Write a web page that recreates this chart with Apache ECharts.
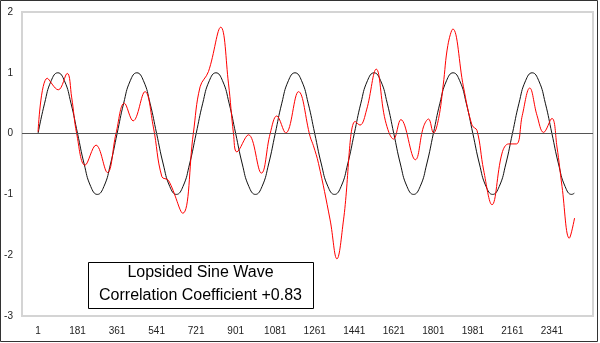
<!DOCTYPE html>
<html>
<head>
<meta charset="utf-8">
<script src="https://cdn.jsdelivr.net/npm/echarts@6/dist/echarts.min.js"></script>
<style>
html,body{margin:0;padding:0;background:#fff;}
#chart{width:600px;height:343px;}
</style>
</head>
<body>
<div id="chart"></div>
<script>
// Tick labels on the x axis (sample numbers)
const xTickLabels = [1, 181, 361, 541, 721, 901, 1081, 1261, 1441, 1621, 1801, 1981, 2161, 2341];
const yTicks = [-3, -2, -1, 0, 1, 2];

// Black: pure sine wave (sample index, value)
const sineX = [0,30,60,90,120,150,180,210,240,270,300,330,360,390,420,450,480,510,540,570,600,630,660,690,720,750,780,810,840,870,900,930,960,990,1020,1050,1080,1110,1140,1170,1200,1230,1260,1290,1320,1350,1380,1410,1440,1470,1500,1530,1560,1590,1620,1650,1680,1710,1740,1770,1800,1830,1860,1890,1920,1950,1980,2010,2040,2070,2100,2130,2160,2190,2220,2250,2280,2310,2340,2370,2400,2430,2442];
const sineY = [0,0.5,0.87,1,0.87,0.5,0,-0.5,-0.87,-1,-0.87,-0.5,
               0,0.5,0.87,1,0.87,0.5,0,-0.5,-0.87,-1,-0.87,-0.5,
               0,0.5,0.87,1,0.87,0.5,0,-0.5,-0.87,-1,-0.87,-0.5,
               0,0.5,0.87,1,0.87,0.5,0,-0.5,-0.87,-1,-0.87,-0.5,
               0,0.5,0.87,1,0.87,0.5,0,-0.5,-0.87,-1,-0.87,-0.5,
               0,0.5,0.87,1,0.87,0.5,0,-0.5,-0.87,-1,-0.87,-0.5,
               0,0.5,0.87,1,0.87,0.5,0,-0.5,-0.87,-1,-0.98];

// Red: lopsided sine wave (sample index, value)
const lopX = [0,42,92,133,153,176,214,264,316,355,393,433,487,525,564,594,659,707,738,776,832,867,890,905,958,1017,1057,1087,1128,1186,1239,1254,1277,1330,1361,1391,1444,1466,1496,1540,1581,1619,1652,1718,1755,1778,1801,1824,1845,1866,1889,1937,1976,1999,2029,2067,2113,2143,2178,2205,2239,2272,2302,2340,2363,2386,2419,2443];
const lopY = [0.03,0.91,0.72,0.99,0.6,0,-0.52,-0.19,-0.64,0,0.5,0.21,0.69,0.11,-0.71,-0.77,-1.31,0,0.77,1.02,1.75,0.83,0,-0.3,-0.02,-0.65,0,0.29,0.01,0.69,-0.05,-0.2,-0.49,-1.42,-2.06,-1.42,0.2,0.14,0.39,1.06,0.22,-0.09,0.23,-0.43,0.11,0.24,0.01,0.25,0.8,1.45,1.72,0.77,0.14,0.05,-0.6,-1.17,-0.32,-0.17,-0.17,0.3,0.75,0.3,0.02,0.25,-0.22,-0.87,-1.72,-1.39];

const titleLines = ['Lopsided Sine Wave', 'Correlation Coefficient +0.83'];

const chart = echarts.init(document.getElementById('chart'), null, {renderer: 'canvas'});
const pair = (xs, ys) => xs.map((x, i) => [x, ys[i]]);

chart.setOption({
  animation: false,
  backgroundColor: '#fff',
  grid: {
    left: 22, top: 12, right: 7, bottom: 27,
    show: true, borderColor: '#d4d4d4', borderWidth: 2, backgroundColor: 'transparent'
  },
  xAxis: {
    type: 'value',
    min: -73, max: 2527,
    axisLine: {show: false},
    axisTick: {show: false},
    splitLine: {show: false},
    axisLabel: {
      customValues: xTickLabels.map(v => v - 1),
      formatter: v => String(v + 1),
      fontFamily: 'Liberation Sans', fontSize: 10, color: '#222', margin: 10
    }
  },
  yAxis: {
    type: 'value',
    min: yTicks[0], max: yTicks[yTicks.length - 1], interval: 1,
    axisLine: {show: false},
    axisTick: {show: false},
    splitLine: {show: false},
    axisLabel: {fontFamily: 'Liberation Sans', fontSize: 10, color: '#222', margin: 9}
  },
  series: [
    {
      type: 'line', name: 'Sine', data: pair(sineX, sineY),
      showSymbol: false, smooth: 0.5,
      lineStyle: {color: '#111', width: 1},
      markLine: {
        silent: true, symbol: 'none', label: {show: false},
        lineStyle: {color: '#555', type: 'solid', width: 1},
        data: [{yAxis: 0}]
      },
      z: 2
    },
    {
      type: 'line', name: 'Lopsided', data: pair(lopX, lopY),
      showSymbol: false, smooth: 0.4,
      lineStyle: {color: '#ff0000', width: 1},
      z: 3
    }
  ],
  graphic: [
    {
      type: 'rect', z: 100, silent: true,
      shape: {x: 0.5, y: 0.5, width: 597, height: 341},
      style: {fill: 'none', stroke: '#333', lineWidth: 1}
    },
    {
      type: 'rect', z: 100, silent: true,
      shape: {x: 88.5, y: 262.5, width: 225, height: 46},
      style: {fill: '#fff', stroke: '#000', lineWidth: 1}
    },
    {
      type: 'text', z: 101, silent: true, x: 200.5, y: 273,
      style: {text: titleLines[0], fill: '#000', font: '16px "Liberation Sans"', align: 'center', verticalAlign: 'middle'}
    },
    {
      type: 'text', z: 101, silent: true, x: 200.5, y: 296,
      style: {text: titleLines[1], fill: '#000', font: '16px "Liberation Sans"', align: 'center', verticalAlign: 'middle'}
    }
  ]
});
</script>
</body>
</html>
